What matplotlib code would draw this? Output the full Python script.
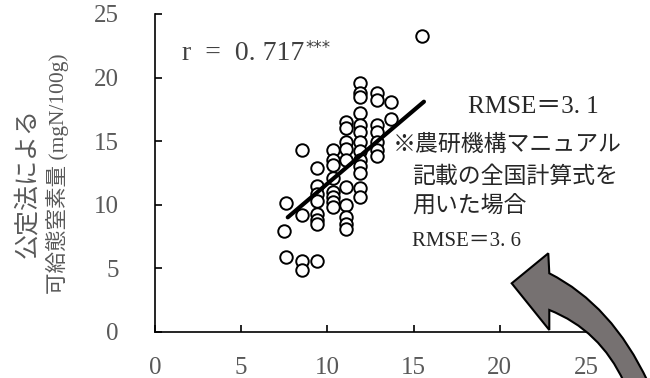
#!/usr/bin/env python3

import matplotlib.pyplot as plt
from matplotlib.path import Path
from matplotlib.patches import PathPatch

# Data: 公定法 vs estimate
x_vals = [
    7.6, 7.5, 7.6, 8.5, 9.4, 8.5,
    8.5, 8.5,
    9.4, 9.4, 9.4, 9.4, 9.4, 9.4, 9.4,
    10.3, 10.3, 10.3, 10.3, 10.3, 10.3, 10.3, 10.3,
    11.1, 11.1, 11.1, 11.1, 11.1, 11.1, 11.1, 11.1, 11.1, 11.1,
    11.9, 11.9, 11.9, 11.9, 11.9, 11.9, 11.9, 11.9, 11.9, 11.9, 11.9, 11.9, 11.9,
    12.9, 12.9, 12.9, 12.9, 12.9, 12.9, 12.9,
    13.7, 13.7,
    15.5,
]
y_vals = [
    10.1, 7.95, 5.9, 5.6, 5.6, 4.85,
    14.3, 9.2,
    12.9, 11.5, 10.8, 10.3, 9.3, 8.8, 8.5,
    14.3, 13.5, 13.1, 12.1, 11.0, 10.6, 10.2, 9.8,
    16.5, 16.0, 14.95, 14.4, 13.5, 11.4, 10.0, 9.05, 8.5, 8.1,
    19.6, 18.8, 18.5, 17.2, 16.3, 15.7, 14.95, 14.2, 13.5, 13.0, 12.5, 11.3, 10.6,
    18.75, 18.2, 16.3, 15.7, 14.95, 14.3, 13.8,
    18.1, 16.7,
    23.3,
]

# regression line end points
line_x = [7.7, 15.6]
line_y = [9.0, 18.1]

ticks = [0, 5, 10, 15, 20, 25]

serif_jp = ['Liberation Serif', 'Noto Sans CJK JP']
gray = '#595959'
dark = '#262626'

fig = plt.figure(figsize=(6.5, 3.78), dpi=100)
ax = fig.add_axes([155 / 650, 1 - 331.7 / 378, 431 / 650, 317.7 / 378])

ax.plot(x_vals, y_vals, linestyle='none', marker='o', ms=9, mfc='white',
        mec='black', mew=1.4, zorder=3)
ax.plot(line_x, line_y, color='black', lw=3, solid_capstyle='round', zorder=4)

ax.set_xlim(0, 25)
ax.set_ylim(0, 25)
ax.set_xticks(ticks)
ax.set_yticks(ticks)
for s in ['top', 'right']:
    ax.spines[s].set_visible(False)
for s in ['left', 'bottom']:
    ax.spines[s].set_linewidth(1.2)
ax.tick_params(direction='in', length=5, width=1.2, colors='black',
               labelcolor=gray, labelsize=18)
ax.tick_params(axis='x', pad=18)
ax.tick_params(axis='y', pad=26)
for lab in ax.get_xticklabels() + ax.get_yticklabels():
    lab.set_family('Liberation Serif')

# y label, two lines
fig.text(27 / 650, 1 - 183 / 378, '公定法による', rotation=90, ha='center',
         va='center', color=gray, fontsize=18, family=serif_jp)
fig.text(57 / 650, 1 - 174 / 378, '可給態窒素量 (mgN/100g)', rotation=90,
         ha='center', va='center', color=gray, fontsize=15.5, family=serif_jp)

# annotations
r_txt = fig.text(182 / 650, 1 - 53 / 378, 'r  =  0. 717', ha='left',
                 va='center', color='#404040', fontsize=20,
                 family='Liberation Serif')
ax.annotate('***', xy=(1, 1), xycoords=r_txt, xytext=(1, 1),
            textcoords='offset points', ha='left', va='top',
            color='#404040', fontsize=12, family='DejaVu Sans')
fig.text(468 / 650, 1 - 107 / 378, 'RMSE＝3. 1', ha='left', va='center',
         color=dark, fontsize=18, family=serif_jp)
fig.text(393 / 650, 1 - 145 / 378, '※農研機構マニュアル', ha='left', va='center',
         color=dark, fontsize=16.5, family=serif_jp)
fig.text(412 / 650, 1 - 177 / 378, '記載の全国計算式を', ha='left', va='center',
         color=dark, fontsize=16.5, family=serif_jp)
fig.text(412 / 650, 1 - 207 / 378, '用いた場合', ha='left', va='center',
         color=dark, fontsize=16.5, family=serif_jp)
fig.text(412 / 650, 1 - 242 / 378, 'RMSE＝3. 6', ha='left', va='center',
         color=dark, fontsize=15, family=serif_jp)

# big curved arrow (decoration), pixel coords -> figure fraction
pts = [
    (511.7, 283.3),   # tip
    (548.3, 253.3),   # head top
    (549.3, 273.3),   # shaft outer start
    (612.0, 305.0), (648.0, 382.0),   # outer curve
    (624.0, 382.0),
    (600.0, 330.0), (549.3, 310.0),   # inner curve
    (549.3, 330.0),   # head bottom
    (511.7, 283.3),
]
codes = [Path.MOVETO, Path.LINETO, Path.LINETO,
         Path.CURVE3, Path.CURVE3,
         Path.LINETO,
         Path.CURVE3, Path.CURVE3,
         Path.LINETO, Path.CLOSEPOLY]
verts = [(px / 650, 1 - py / 378) for px, py in pts]
arrow = PathPatch(Path(verts, codes), transform=fig.transFigure,
                  facecolor='#767171', edgecolor='black', lw=1.5,
                  joinstyle='miter', clip_on=False)
fig.patches.append(arrow)

fig.savefig('out.png', dpi=100)
